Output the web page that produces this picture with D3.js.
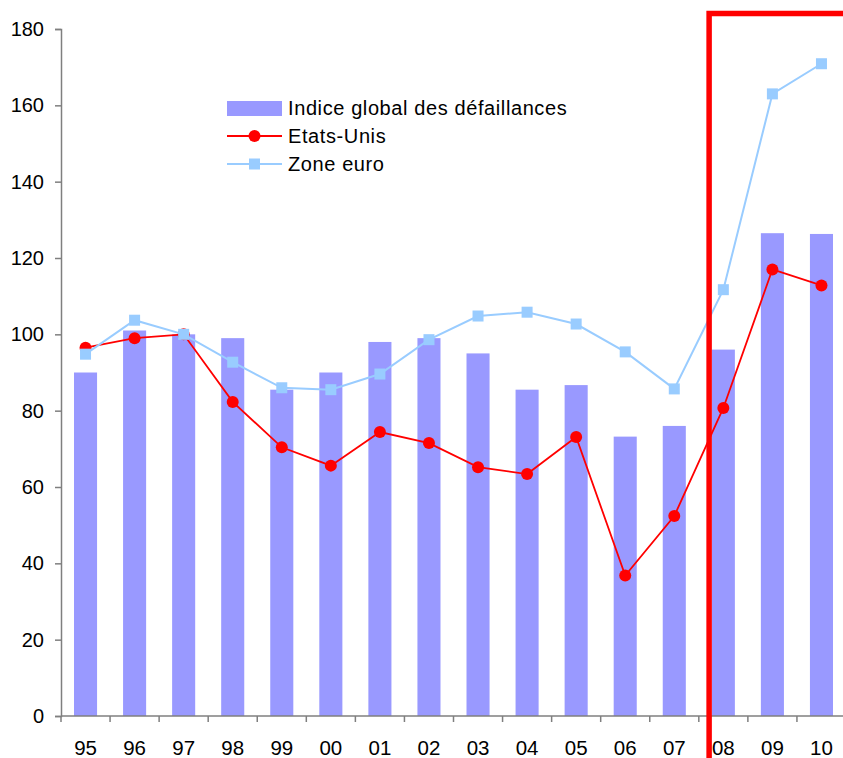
<!DOCTYPE html>
<html>
<head>
<meta charset="utf-8">
<script src="https://cdn.jsdelivr.net/npm/d3@7"></script>
<style>
  body { margin: 0; background: #fff; }
  svg { display: block; font-family: "Liberation Sans", Arial, sans-serif; }
</style>
</head>
<body>
<div id="chart"></div>
<script>
// data
var years = ["95","96","97","98","99","00","01","02","03","04","05","06","07","08","09","10"];
var indiceGlobal = [90, 101, 100, 99, 85.5, 90, 98, 99, 95, 85.5, 86.7, 73.2, 76, 96, 126.5, 126.3];
var etatsUnis = [96.5, 99, 100, 82.3, 70.4, 65.6, 74.4, 71.5, 65.2, 63.4, 73.1, 36.8, 52.4, 80.7, 117, 112.8];
var zoneEuro = [94.8, 103.7, 100, 92.7, 86, 85.5, 89.6, 98.6, 104.8, 105.8, 102.7, 95.4, 85.7, 111.7, 163, 170.9];
var yTicks = [0, 20, 40, 60, 80, 100, 120, 140, 160, 180];
var legendItems = ["Indice global des défaillances", "Etats-Unis", "Zone euro"];

var W = 843, H = 758;
var margin = {top: 29, left: 61};
var plotW = 785, plotH = 687;

var svg = d3.select("#chart").append("svg")
  .attr("width", W)
  .attr("height", H);

var g = svg.append("g")
  .attr("transform", "translate(" + margin.left + "," + margin.top + ")");

var x = d3.scaleBand()
  .domain(years)
  .range([0, plotW])
  .paddingInner(0.53)
  .paddingOuter(0.265);

var xc = d3.scalePoint()
  .domain(years)
  .range([0, plotW])
  .padding(0.5);

var y = d3.scaleLinear()
  .domain([0, 180])
  .range([plotH, 0]);

// bars
g.selectAll(".bar")
  .data(years)
  .enter()
  .append("rect")
  .attr("class", "bar")
  .attr("x", d => x(d))
  .attr("y", (d, i) => y(indiceGlobal[i]))
  .attr("width", x.bandwidth())
  .attr("height", (d, i) => plotH - y(indiceGlobal[i]))
  .attr("fill", "#9999ff");

// y axis
var yAxis = g.append("g")
  .call(d3.axisLeft(y).tickValues(yTicks).tickSize(6).tickPadding(11));
yAxis.select(".domain").attr("stroke", "#7f7f7f").attr("stroke-width", 1.5);
yAxis.selectAll(".tick line").attr("stroke", "#7f7f7f").attr("stroke-width", 1.5);
yAxis.selectAll(".tick text").style("font-size", "20px").attr("fill", "#000");

// x axis, ticks at band edges
var xAxis = g.append("g")
  .attr("transform", "translate(0," + plotH + ")");
xAxis.append("line")
  .attr("x1", 0).attr("x2", plotW)
  .attr("stroke", "#7f7f7f").attr("stroke-width", 1.5);
xAxis.selectAll(".xt")
  .data(years)
  .enter()
  .append("line")
  .attr("x1", d => xc(d) - xc.step() / 2)
  .attr("x2", d => xc(d) - xc.step() / 2)
  .attr("y1", 0).attr("y2", 6)
  .attr("stroke", "#7f7f7f").attr("stroke-width", 1.5);
xAxis.selectAll(".xl")
  .data(years)
  .enter()
  .append("text")
  .attr("x", d => xc(d))
  .attr("y", 39)
  .attr("text-anchor", "middle")
  .style("font-size", "20.5px")
  .text(d => d);

// lines: Etats-Unis first, Zone euro on top
var lineEU = d3.line().x((d, i) => xc(years[i])).y(d => y(d));

g.append("path")
  .datum(etatsUnis)
  .attr("d", lineEU)
  .attr("fill", "none")
  .attr("stroke", "#ff0000")
  .attr("stroke-width", 1.8);

g.selectAll(".dot")
  .data(etatsUnis)
  .enter()
  .append("circle")
  .attr("cx", (d, i) => xc(years[i]))
  .attr("cy", d => y(d))
  .attr("r", 6)
  .attr("fill", "#ff0000");

g.append("path")
  .datum(zoneEuro)
  .attr("d", lineEU)
  .attr("fill", "none")
  .attr("stroke", "#99ccff")
  .attr("stroke-width", 2);

g.selectAll(".sq")
  .data(zoneEuro)
  .enter()
  .append("rect")
  .attr("x", (d, i) => xc(years[i]) - 5.5)
  .attr("y", d => y(d) - 5.5)
  .attr("width", 11)
  .attr("height", 11)
  .attr("fill", "#99ccff");

// red frame around forecast years
var boxX = xc("07") + xc.step() * 0.71;
svg.append("path")
  .attr("d", "M" + (margin.left + boxX) + "," + H + " V" + 13.5 + " H" + W)
  .attr("fill", "none")
  .attr("stroke", "#ff0000")
  .attr("stroke-width", 5.5);

// legend
var legend = svg.append("g").attr("transform", "translate(227,108)");
legend.append("rect")
  .attr("x", 0).attr("y", -7)
  .attr("width", 55).attr("height", 15)
  .attr("fill", "#9999ff");
legend.append("line")
  .attr("x1", 0).attr("x2", 55).attr("y1", 28).attr("y2", 28)
  .attr("stroke", "#ff0000").attr("stroke-width", 1.8);
legend.append("circle")
  .attr("cx", 27.5).attr("cy", 28).attr("r", 6).attr("fill", "#ff0000");
legend.append("line")
  .attr("x1", 0).attr("x2", 55).attr("y1", 56).attr("y2", 56)
  .attr("stroke", "#99ccff").attr("stroke-width", 2);
legend.append("rect")
  .attr("x", 22).attr("y", 50.5).attr("width", 11).attr("height", 11)
  .attr("fill", "#99ccff");
legend.selectAll(".lt")
  .data(legendItems)
  .enter()
  .append("text")
  .attr("x", 61)
  .attr("y", (d, i) => i * 28 + 7)
  .style("font-size", "20px")
  .style("letter-spacing", "0.6px")
  .text(d => d);
</script>
</body>
</html>
